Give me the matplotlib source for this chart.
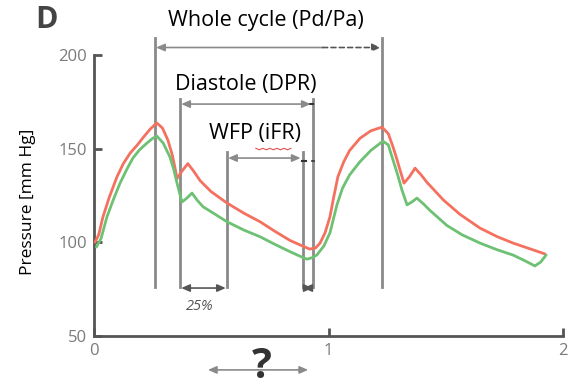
import matplotlib
matplotlib.use("Agg")
import matplotlib.pyplot as plt

# ---- data (time in cardiac cycles, pressure in mm Hg) ----
t_red = [0.004, 0.02, 0.038, 0.065, 0.098, 0.125, 0.154, 0.185, 0.21, 0.24, 0.268, 0.292, 0.315, 0.333,
         0.345, 0.354, 0.375, 0.40, 0.425, 0.452, 0.50, 0.567, 0.64, 0.708, 0.77, 0.836, 0.89, 0.92,
         0.945, 0.964, 0.985, 1.006, 1.022, 1.04, 1.065, 1.09, 1.134, 1.18, 1.228, 1.255, 1.275, 1.29,
         1.305, 1.322, 1.345, 1.369, 1.395, 1.42, 1.49, 1.56, 1.646, 1.72, 1.787, 1.86, 1.923]
p_red = [100, 104, 113.5, 124, 135, 142, 147.6, 152, 156, 160.5, 163.7, 161, 154.6, 147,
         140, 134, 138, 142, 138, 133, 127, 121, 115.5, 111, 106, 101, 98, 96.4,
         97, 99.6, 105, 113.5, 124, 135, 143, 149, 155.5, 159.5, 161.5, 158, 151, 145,
         138.6, 131.6, 135, 139.6, 136, 132, 122.6, 115, 107.6, 103, 99.6, 96.5, 93.8]

t_green = [0.01, 0.03, 0.055, 0.08, 0.111, 0.14, 0.166, 0.195, 0.226, 0.25, 0.268, 0.295, 0.324, 0.34,
           0.354, 0.375, 0.395, 0.418, 0.44, 0.465, 0.51, 0.567, 0.64, 0.708, 0.77, 0.836, 0.88, 0.908,
           0.93, 0.95, 0.98, 1.006, 1.02, 1.036, 1.06, 1.09, 1.134, 1.18, 1.232, 1.255, 1.275, 1.295,
           1.313, 1.335, 1.355, 1.377, 1.405, 1.433, 1.505, 1.57, 1.646, 1.72, 1.787, 1.84, 1.88, 1.905, 1.928]
p_green = [97.5, 102, 113.5, 122, 131.6, 139, 145, 149.5, 153, 155.5, 156.7, 153, 145.5, 139,
           131.6, 121.5, 123.5, 126.3, 122.5, 119, 115.5, 111, 106.5, 103, 99, 95, 92.5, 91,
           91.8, 93.2, 98, 105, 112, 120, 129, 136, 143, 149, 154, 152, 144, 136,
           128, 120, 121.5, 123.6, 120.5, 117, 109, 104, 99.6, 96, 93.2, 90, 87.4, 89.5, 93.2]

# interval markers (time)
cycle_start, cycle_end = 0.26, 1.228
dia_start, dia_end = 0.367, 0.934
wfp_start, wfp_end = 0.567, 0.891

y_ticks = [50, 100, 150, 200]
x_ticks = [0, 1, 2]

RED = "#f4715f"
GREEN = "#6dc173"
GRAY = "#8a8a8a"
DARK = "#555555"
FONT = "Open Sans"

fig = plt.figure(figsize=(5.78, 3.91), dpi=100)
ax = fig.add_axes([94 / 578, 55 / 391, 469 / 578, 281 / 391])
ax.set_xlim(0, 2)
ax.set_ylim(50, 200)

for s in ["top", "right"]:
    ax.spines[s].set_visible(False)
for s in ["left", "bottom"]:
    ax.spines[s].set_color(DARK)
    ax.spines[s].set_linewidth(2)
    ax.spines[s].set_capstyle("projecting")

ax.set_xticks(x_ticks)
ax.set_yticks(y_ticks)
ax.tick_params(direction="in", length=6, width=2, color=DARK,
               labelcolor="#7a7a7a", labelsize=12)
ax.tick_params(axis="x", pad=5)
ax.tick_params(axis="y", pad=5)
for lab in ax.get_xticklabels() + ax.get_yticklabels():
    lab.set_family(FONT)

# curves
ax.plot(t_red, p_red, color=RED, lw=2, solid_capstyle="round", solid_joinstyle="round", zorder=3)
ax.plot(t_green, p_green, color=GREEN, lw=2, solid_capstyle="round", solid_joinstyle="round", zorder=3)

# vertical marker lines
bottom = 76
for x, top in [(cycle_start, 209), (cycle_end, 209), (dia_start, 176.5), (dia_end, 176.5),
               (wfp_start, 148), (wfp_end, 148)]:
    ax.plot([x, x], [bottom, top], color=GRAY, lw=2, clip_on=False, zorder=2)

def arrow(x0, x1, y, both=True, color=GRAY, ls="-", lw=1.2):
    style = "<|-|>" if both else "-|>"
    ax.annotate("", xy=(x1, y), xytext=(x0, y), xycoords="data",
                arrowprops=dict(arrowstyle=style + ",head_length=0.5,head_width=0.22",
                                color=color, lw=lw, ls=ls, shrinkA=0, shrinkB=0),
                annotation_clip=False)

# whole cycle arrow (solid left part + dashed right part)
ax.annotate("", xy=(cycle_start + 0.005, 204), xytext=(0.975, 204),
            arrowprops=dict(arrowstyle="-|>,head_length=0.5,head_width=0.22", color=GRAY,
                            lw=1.2, shrinkA=0, shrinkB=0), annotation_clip=False)
ax.annotate("", xy=(cycle_end - 0.005, 204), xytext=(0.975, 204),
            arrowprops=dict(arrowstyle="-|>,head_length=0.5,head_width=0.22", color=DARK,
                            lw=1.2, ls=(0, (3, 2)), shrinkA=0, shrinkB=0), annotation_clip=False)
# diastole
arrow(dia_start + 0.005, dia_end - 0.01, 173.8)
ax.plot([dia_end - 0.012, dia_end], [173.8, 173.8], color="#333333", lw=1.5, clip_on=False)
# WFP
arrow(wfp_start + 0.005, wfp_end - 0.01, 145)
ax.plot([wfp_end - 0.005, wfp_end + 0.012], [143.5, 143.5], color="#333333", lw=1.5, clip_on=False)
ax.plot([dia_end - 0.004, dia_end + 0.004], [143.5, 143.5], color="#333333", lw=1.2, clip_on=False)
# bottom arrows
arrow(dia_start + 0.005, wfp_start - 0.005, 75.6, color=DARK)
arrow(wfp_end + 0.002, dia_end - 0.002, 75.6, color=DARK)
# question arrow
arrow(0.486, 0.913, 31.9, color=GRAY)

# texts
tkw = dict(ha="center", va="center", family=FONT, color="black", clip_on=False)
ax.text(0.733, 218.6, "Whole cycle (Pd/Pa)", fontsize=15.5, **tkw)
ax.text(0.648, 184.5, "Diastole (DPR)", fontsize=15.5, **tkw)
ax.text(0.687, 158.3, "WFP (iFR)", fontsize=15.5, **tkw)
# spell-check underline under iFR
ax.plot([0.69, 0.705, 0.72, 0.735, 0.75, 0.765, 0.78, 0.795, 0.81, 0.825, 0.84],
        [150.2, 149.4, 150.2, 149.4, 150.2, 149.4, 150.2, 149.4, 150.2, 149.4, 150.2],
        color="#e05050", lw=0.8, clip_on=False)
ax.text(0.452, 65.5, "25%", fontsize=10.5, style="italic", ha="center", va="center",
        family=FONT, color="#555555", clip_on=False)
ax.text(0.716, 33, "?", fontsize=30, fontweight="bold", ha="center", va="center",
        family=FONT, color="#333333", clip_on=False)

fig.text(46 / 578, 1 - 20 / 391, "D", fontsize=22, fontweight="bold", ha="center",
         va="center", family=FONT, color="#444444")
fig.text(28 / 578, 1 - 202 / 391, "Pressure [mm Hg]", rotation=90, fontsize=12.5,
         ha="center", va="center", family=FONT, color="black")

fig.savefig("out.png", dpi=100)
